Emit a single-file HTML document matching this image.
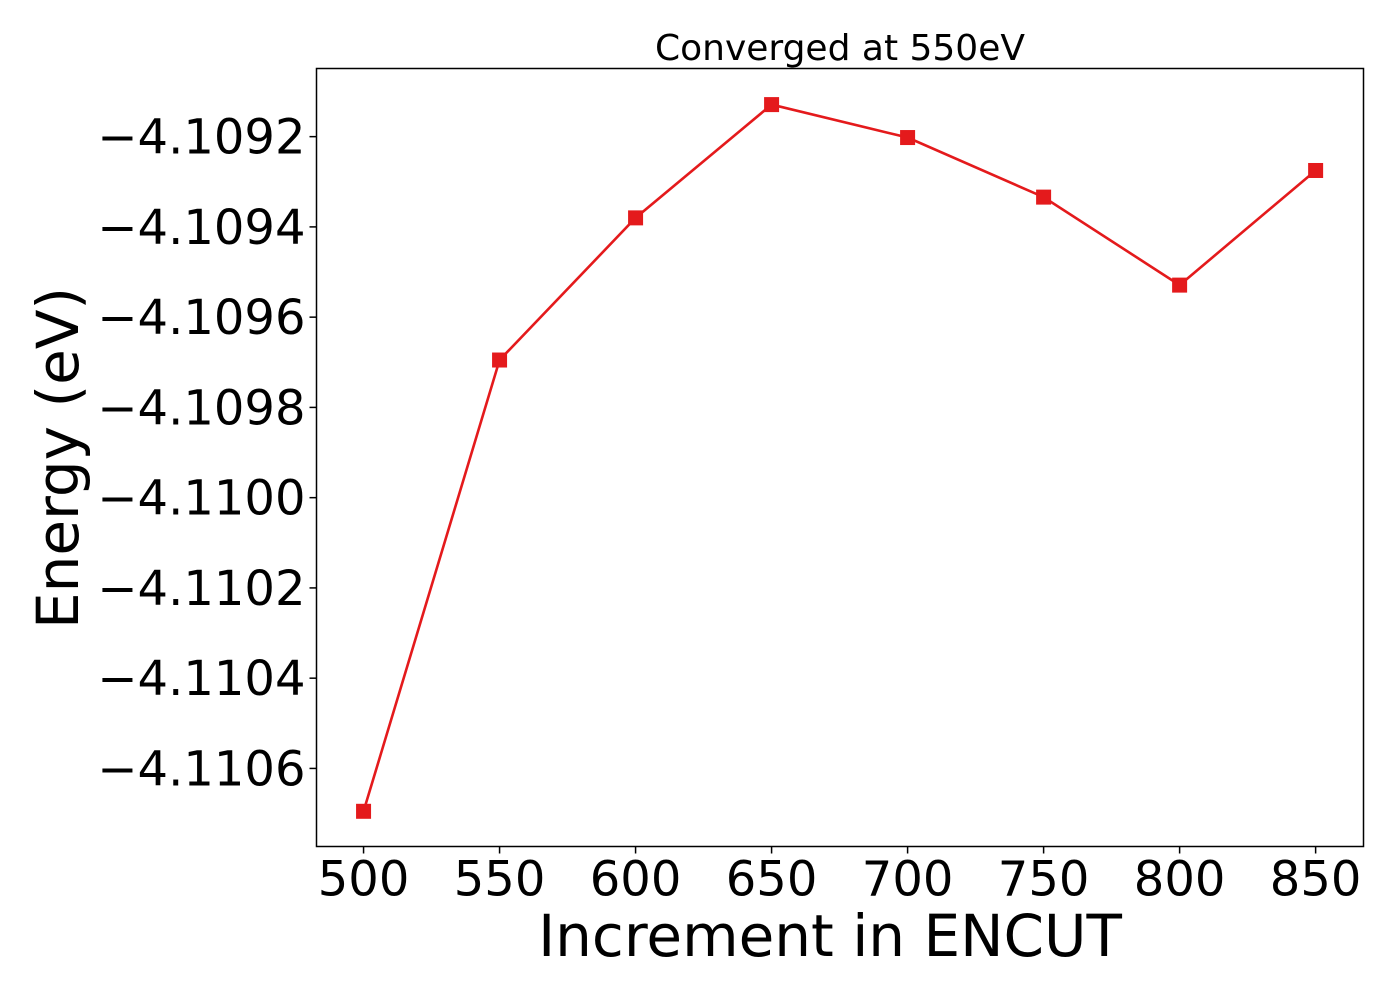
<!DOCTYPE html>
<html><head><meta charset="utf-8"><style>
body{margin:0;background:#fff;}
svg{display:block;font-family:"DejaVu Sans","Liberation Sans",sans-serif;}
</style></head><body>
<svg id="chart" width="1400" height="1000">
<text x="840" y="60" font-size="36" text-anchor="middle">Converged at 550eV</text>
<text x="830" y="956" font-size="58" text-anchor="middle">Increment in ENCUT</text>
<text transform="translate(78,458) rotate(-90)" font-size="58" text-anchor="middle">Energy (eV)</text>
<g id="plot"></g>
<rect x="316.5" y="68.5" width="1047" height="778" fill="none" stroke="#000" stroke-width="1.5"/>
</svg>
<script>
const categories=[500,550,600,650,700,750,800,850];
const energies=[-4.110695,-4.109695,-4.10938,-4.109129,-4.109202,-4.109334,-4.109529,-4.109275];
const xTicks=[500,550,600,650,700,750,800,850];
const yTicks=[-4.1092,-4.1094,-4.1096,-4.1098,-4.1100,-4.1102,-4.1104,-4.1106];
const L=316.5,R=1363.5,T=68.5,B=846.5;
const xMin=482.7,xMax=867.6,yMin=-4.110773,yMax=-4.109049;
const sx=v=>L+(v-xMin)/(xMax-xMin)*(R-L);
const sy=v=>B-(v-yMin)/(yMax-yMin)*(B-T);
const NS="http://www.w3.org/2000/svg";
const g=document.getElementById('plot');
function mk(t,a){const e=document.createElementNS(NS,t);for(const k in a)e.setAttribute(k,a[k]);g.appendChild(e);return e;}
xTicks.forEach(v=>{
 const l=mk('line',{x1:sx(v),x2:sx(v),y1:B,y2:B+7,stroke:'#000','stroke-width':1.5});
 
 
 const t=mk('text',{x:sx(v),y:B+49,'font-size':48,'text-anchor':'middle'});
 t.textContent=v;
 
 
});
yTicks.forEach(v=>{
 const l=mk('line',{x1:L-7,x2:L,y1:sy(v),y2:sy(v),stroke:'#000','stroke-width':1.5});
 
 
 const t=mk('text',{x:L-11,y:sy(v)+17,'font-size':48,'text-anchor':'end'});
 t.textContent='\u2212'+Math.abs(v).toFixed(4);
 
 
});
const pts=categories.map((c,i)=>sx(c)+','+sy(energies[i])).join(' ');
const pl=mk('polyline',{points:pts,fill:'none',stroke:'#e41a1c','stroke-width':2.6});


categories.forEach((c,i)=>{
 const r=mk('rect',{x:sx(c)-7.5,y:sy(energies[i])-7.5,width:15,height:15,fill:'#e41a1c'});
 
 
});
</script>
</body></html>
